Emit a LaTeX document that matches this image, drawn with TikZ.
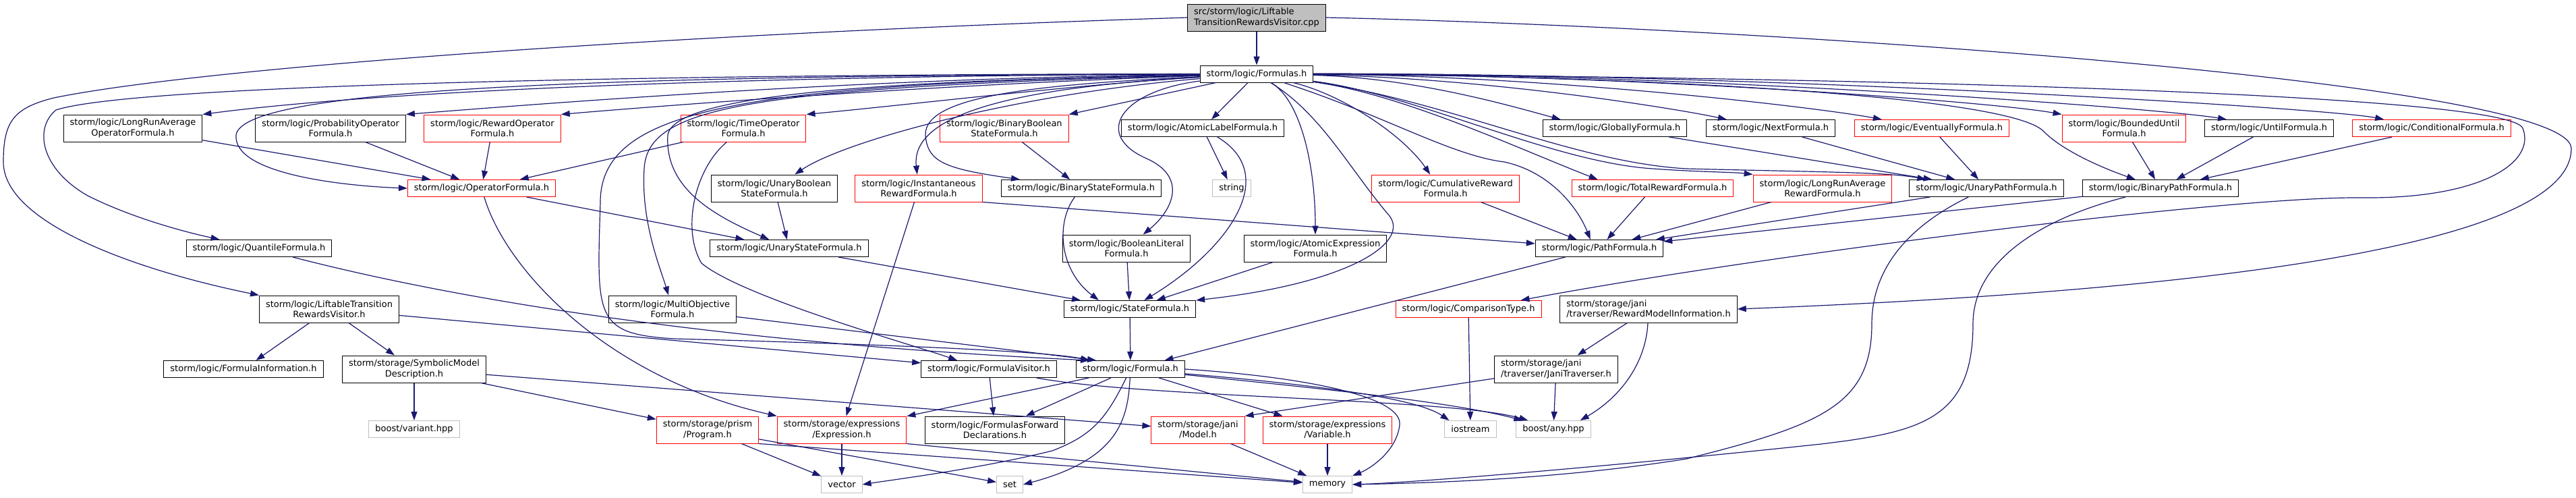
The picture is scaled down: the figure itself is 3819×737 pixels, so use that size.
\documentclass[tikz,border=0pt]{standalone}
\usepackage{fontspec}
\setmainfont{DejaVu Sans}
\usetikzlibrary{positioning,arrows.meta}
\definecolor{edgeblue}{HTML}{191970}
\definecolor{grey75}{HTML}{BFBFBF}

\tikzset{
  hdr/.style={draw=black, line width=1pt, fill=white, inner xsep=9.5pt, inner ysep=0pt,
    minimum height=25pt, font=\fontsize{13}{15.3}\selectfont},
  two/.style={minimum height=40pt, align=center},
  twol/.style={minimum height=40pt, align=left},
  trunc/.style={draw=red},
  sys/.style={draw=grey75},
  dep/.style={draw=edgeblue, line width=1.2pt, -{Triangle[length=13pt,width=9pt]}},
}

\begin{document}
\begin{tikzpicture}[x=1pt,y=-1pt]
\useasboundingbox (0,0) rectangle (3819,737);

\node[hdr, twol, fill=grey75] (cpp) at (1863,26) {src/storm/logic/Liftable\\TransitionRewardsVisitor.cpp};
\node[hdr, below=50pt of cpp] (formulas) {storm/logic/Formulas.h};

\node[hdr, two] (lraop) at (197,190) {storm/logic/LongRunAverage\\OperatorFormula.h};
\node[hdr, two] (probop) at (490,190) {storm/logic/ProbabilityOperator\\Formula.h};
\node[hdr, two, trunc] (rewop) at (730,190) {storm/logic/RewardOperator\\Formula.h};
\node[hdr, two, trunc] (timeop) at (1102,190) {storm/logic/TimeOperator\\Formula.h};
\node[hdr, two, trunc] (binbool) at (1489,190) {storm/logic/BinaryBoolean\\StateFormula.h};
\node[hdr] (atomlabel) at (1783,190) {storm/logic/AtomicLabelFormula.h};
\node[hdr] (globally) at (2394,190) {storm/logic/GloballyFormula.h};
\node[hdr] (next) at (2625,190) {storm/logic/NextFormula.h};
\node[hdr, trunc] (eventually) at (2864,190) {storm/logic/EventuallyFormula.h};
\node[hdr, two, trunc] (bounded) at (3149,190) {storm/logic/BoundedUntil\\Formula.h};
\node[hdr] (until) at (3364,190) {storm/logic/UntilFormula.h};
\node[hdr, trunc] (conditional) at (3605,190) {storm/logic/ConditionalFormula.h};

\node[hdr, trunc] (opformula) at (714,279) {storm/logic/OperatorFormula.h};
\node[hdr, two] (unarybool) at (1148,279) {storm/logic/UnaryBoolean\\StateFormula.h};
\node[hdr, two, trunc] (instreward) at (1362,279) {storm/logic/Instantaneous\\RewardFormula.h};
\node[hdr] (binstate) at (1603,279) {storm/logic/BinaryStateFormula.h};
\node[hdr, sys] (string) at (1826,279) {string};
\node[hdr, two, trunc] (cumreward) at (2143,279) {storm/logic/CumulativeReward\\Formula.h};
\node[hdr, trunc] (totalreward) at (2450,279) {storm/logic/TotalRewardFormula.h};
\node[hdr, two, trunc] (lrareward) at (2702,279) {storm/logic/LongRunAverage\\RewardFormula.h};
\node[hdr] (unarypath) at (2945,279) {storm/logic/UnaryPathFormula.h};
\node[hdr] (binpath) at (3203,279) {storm/logic/BinaryPathFormula.h};

\node[hdr] (quantile) at (384,368) {storm/logic/QuantileFormula.h};
\node[hdr] (unarystate) at (1170,368) {storm/logic/UnaryStateFormula.h};
\node[hdr, two] (boollit) at (1670,368) {storm/logic/BooleanLiteral\\Formula.h};
\node[hdr, two] (atomexpr) at (1950,368) {storm/logic/AtomicExpression\\Formula.h};
\node[hdr] (pathformula) at (2371,368) {storm/logic/PathFormula.h};

\node[hdr, two] (liftable) at (488,458) {storm/logic/LiftableTransition\\RewardsVisitor.h};
\node[hdr, two] (multiobj) at (997,458) {storm/logic/MultiObjective\\Formula.h};
\node[hdr] (stateformula) at (1675,458) {storm/logic/StateFormula.h};
\node[hdr, trunc] (comparison) at (2177,458) {storm/logic/ComparisonType.h};
\node[hdr, twol] (rewardinfo) at (2444,458) {storm/storage/jani\\/traverser/RewardModelInformation.h};

\node[hdr] (forminfo) at (361,547) {storm/logic/FormulaInformation.h};
\node[hdr, two] (symbolic) at (614,547) {storm/storage/SymbolicModel\\Description.h};
\node[hdr] (visitor) at (1466,547) {storm/logic/FormulaVisitor.h};
\node[hdr] (formula) at (1676,547) {storm/logic/Formula.h};
\node[hdr, twol] (janitrav) at (2307,547) {storm/storage/jani\\/traverser/JaniTraverser.h};

\node[hdr, sys] (variant) at (614,636) {boost/variant.hpp};
\node[hdr, two, trunc] (program) at (1049,637) {storm/storage/prism\\/Program.h};
\node[hdr, two, trunc] (expression) at (1248,637) {storm/storage/expressions\\/Expression.h};
\node[hdr, two] (fwddecl) at (1475,637) {storm/logic/FormulasForward\\Declarations.h};
\node[hdr, two, trunc] (janimodel) at (1776,637) {storm/storage/jani\\/Model.h};
\node[hdr, two, trunc] (variable) at (1968,637) {storm/storage/expressions\\/Variable.h};
\node[hdr, sys] (iostream) at (2180,636) {iostream};
\node[hdr, sys] (anyhpp) at (2303,636) {boost/any.hpp};

\node[hdr, sys] (vector) at (1248,718) {vector};
\node[hdr, sys] (set) at (1497,718) {set};
\node[hdr, sys] (memory) at (1968,718) {memory};

\draw[dep] (cpp) -- (formulas);
\draw[dep] (cpp.west) .. controls (1000,50) and (300,100) .. (80,145) .. controls (20,160) and (5,180) .. (5,240) .. controls (5,330) and (200,400) .. (liftable.north west);
\draw[dep] (cpp.east) .. controls (2600,40) and (3810,120) .. (3812,220) .. controls (3812,360) and (3300,430) .. (rewardinfo.east);

\draw[dep] (formulas) .. controls (1000,110) and (200,125) .. (83,163) .. controls (50,190) and (60,250) .. (130,290) .. controls (200,325) and (280,345) .. ([xshift=50pt]quantile.north west);
\draw[dep] (formulas) .. controls (900,112) and (360,130) .. (350,200) .. controls (345,260) and (520,276) .. (opformula.west);
\draw[dep] (formulas) .. controls (1200,112) and (600,130) .. (lraop.north east);
\draw[dep] (formulas) .. controls (1300,115) and (850,150) .. (probop.north east);
\draw[dep] (formulas) .. controls (1400,125) and (1000,155) .. (rewop.north east);
\draw[dep] (formulas) .. controls (1600,125) and (1350,155) .. (timeop.north east);
\draw[dep] (formulas) .. controls (1500,140) and (1250,210) .. (unarybool);
\draw[dep] (formulas) .. controls (1500,130) and (1350,170) .. (instreward);
\draw[dep] (formulas) -- (binbool.north east);
\draw[dep] (formulas) .. controls (1550,125) and (1370,140) .. (1372,200) .. controls (1375,240) and (1400,250) .. (binstate);
\draw[dep] (formulas) -- (atomlabel);
\draw[dep] (formulas) .. controls (1660,135) and (1620,200) .. (1700,235) .. controls (1760,262) and (1740,310) .. (boollit);
\draw[dep] (formulas) .. controls (1930,150) and (1950,250) .. (atomexpr);
\draw[dep] (formulas) .. controls (1960,170) and (2000,250) .. (2060,320) .. controls (2090,360) and (2000,420) .. (stateformula.north east);
\draw[dep] (formulas) .. controls (1100,125) and (890,160) .. (890,300) .. controls (885,470) and (880,495) .. (1000,502) .. controls (1300,510) and (1550,520) .. (formula);
\draw[dep] (formulas) .. controls (1100,130) and (960,160) .. (955,250) .. controls (950,330) and (980,400) .. (multiobj);
\draw[dep] (formulas) .. controls (1300,120) and (1000,140) .. (990,200) .. controls (985,280) and (1060,320) .. (unarystate);
\draw[dep] (formulas) .. controls (2100,115) and (2250,160) .. ([xshift=27pt]globally.north west);
\draw[dep] (formulas) .. controls (2200,115) and (2480,160) .. ([xshift=31pt]next.north west);
\draw[dep] (formulas) .. controls (2300,112) and (2700,160) .. ([xshift=41pt]eventually.north west);
\draw[dep] (formulas) .. controls (2400,110) and (2950,150) .. (bounded.north west);
\draw[dep] (formulas) .. controls (2500,108) and (3200,160) .. ([xshift=33pt]until.north west);
\draw[dep] (formulas) .. controls (2600,108) and (3450,160) .. ([xshift=47pt]conditional.north west);
\draw[dep] (formulas) .. controls (2400,112) and (2980,140) .. (3030,195) .. controls (3060,225) and (3120,250) .. (binpath);
\draw[dep] (formulas) .. controls (1990,140) and (2080,200) .. ([xshift=87pt]cumreward.north west);
\draw[dep] (formulas) .. controls (2080,140) and (2250,220) .. ([xshift=39pt]totalreward.north west);
\draw[dep] (formulas) .. controls (2100,140) and (2300,240) .. (2450,250) .. controls (2520,255) and (2570,255) .. (lrareward.north west);
\draw[dep] (formulas) .. controls (2150,150) and (2330,240) .. (2500,250) .. controls (2700,255) and (2800,255) .. ([xshift=25pt]unarypath.north west);
\draw[dep] (formulas) .. controls (2050,170) and (2150,230) .. (2230,240) .. controls (2300,255) and (2340,310) .. ([xshift=82pt]pathformula.north west);
\draw[dep] (formulas) .. controls (2800,115) and (3720,140) .. (3740,190) .. controls (3760,240) and (3680,295) .. (3500,293) .. controls (3300,291) and (2600,380) .. ([xshift=-31pt]comparison.north east);

\draw[dep] (lraop) -- (opformula);
\draw[dep] (probop) -- (opformula);
\draw[dep] (rewop) -- (opformula);
\draw[dep] (timeop) -- (opformula);
\draw[dep] (timeop) .. controls (1030,250) and (1010,340) .. (1040,390) .. controls (1100,440) and (1350,510) .. ([xshift=54pt]visitor.north west);
\draw[dep] (opformula) -- (unarystate);
\draw[dep] (opformula) .. controls (750,400) and (900,560) .. (expression.north west);
\draw[dep] (unarybool) -- (unarystate);
\draw[dep] (instreward) -- (expression);
\draw[dep] (instreward.south east) -- (pathformula);
\draw[dep] (binbool) -- (binstate);
\draw[dep] (binstate) .. controls (1565,330) and (1570,400) .. ([xshift=52pt]stateformula.north west);
\draw[dep] (atomlabel) -- (string);
\draw[dep] (atomlabel) .. controls (1900,260) and (1820,370) .. (stateformula);
\draw[dep] (unarystate) -- (stateformula);
\draw[dep] (boollit) -- (stateformula);
\draw[dep] (atomexpr) -- (stateformula);
\draw[dep] (cumreward) -- (pathformula);
\draw[dep] (totalreward) -- (pathformula);
\draw[dep] (lrareward) -- (pathformula);
\draw[dep] (globally) -- (unarypath);
\draw[dep] (next) -- (unarypath);
\draw[dep] (eventually) -- (unarypath);
\draw[dep] (unarypath) -- (pathformula);
\draw[dep] (unarypath) .. controls (2840,330) and (2775,390) .. (2775,480) .. controls (2775,600) and (2700,630) .. (2500,680) .. controls (2300,712) and (2100,716) .. (memory.east);
\draw[dep] (binpath) -- (pathformula);
\draw[dep] (binpath) .. controls (3040,320) and (2925,380) .. (2925,480) .. controls (2925,620) and (2850,640) .. (2700,658) .. controls (2400,690) and (2100,715) .. (memory.east);
\draw[dep] (bounded) -- (binpath);
\draw[dep] (until) -- (binpath);
\draw[dep] (conditional) -- (binpath);
\draw[dep] (pathformula) -- (formula);
\draw[dep] (stateformula) -- (formula);
\draw[dep] (multiobj) -- ([xshift=30pt]formula.north west);
\draw[dep] (quantile) .. controls (700,450) and (1100,510) .. ([xshift=20pt]formula.north west);
\draw[dep] (liftable) -- (visitor);
\draw[dep] (liftable) -- (forminfo);
\draw[dep] (liftable) -- (symbolic);
\draw[dep] (symbolic) -- (variant);
\draw[dep] (symbolic) -- (program);
\draw[dep] (symbolic) -- (janimodel);
\draw[dep] (program) -- (vector);
\draw[dep] (program) -- (set);
\draw[dep] (program.south east) -- (memory);
\draw[dep] (expression) -- (vector);
\draw[dep] (expression.south east) -- (memory);
\draw[dep] (visitor) -- (fwddecl);
\draw[dep] (visitor) .. controls (1700,590) and (2150,590) .. ([xshift=18pt]anyhpp.north west);
\draw[dep] (formula) -- (expression);
\draw[dep] (formula) -- (fwddecl);
\draw[dep] (formula) .. controls (1640,620) and (1620,645) .. (1560,668) .. controls (1450,695) and (1330,710) .. (vector.east);
\draw[dep] (formula) .. controls (1672,620) and (1660,680) .. (set.east);
\draw[dep] (formula) -- (variable);
\draw[dep] (formula.east) .. controls (1950,560) and (2080,590) .. (2075,630) .. controls (2070,670) and (2030,695) .. (memory.north east);
\draw[dep] (formula) .. controls (1950,570) and (2100,590) .. ([xshift=7pt]iostream.north west);
\draw[dep] (formula) .. controls (1950,575) and (2150,595) .. ([xshift=10pt]anyhpp.north west);
\draw[dep] (janitrav) -- (janimodel.north east);
\draw[dep] (janitrav) -- (anyhpp);
\draw[dep] (rewardinfo) -- (janitrav);
\draw[dep] (rewardinfo) .. controls (2440,540) and (2400,590) .. ([xshift=-16pt]anyhpp.north east);
\draw[dep] (comparison) -- (iostream);
\draw[dep] (janimodel) -- (memory);
\draw[dep] (variable) -- (memory);
\end{tikzpicture}
\end{document}
